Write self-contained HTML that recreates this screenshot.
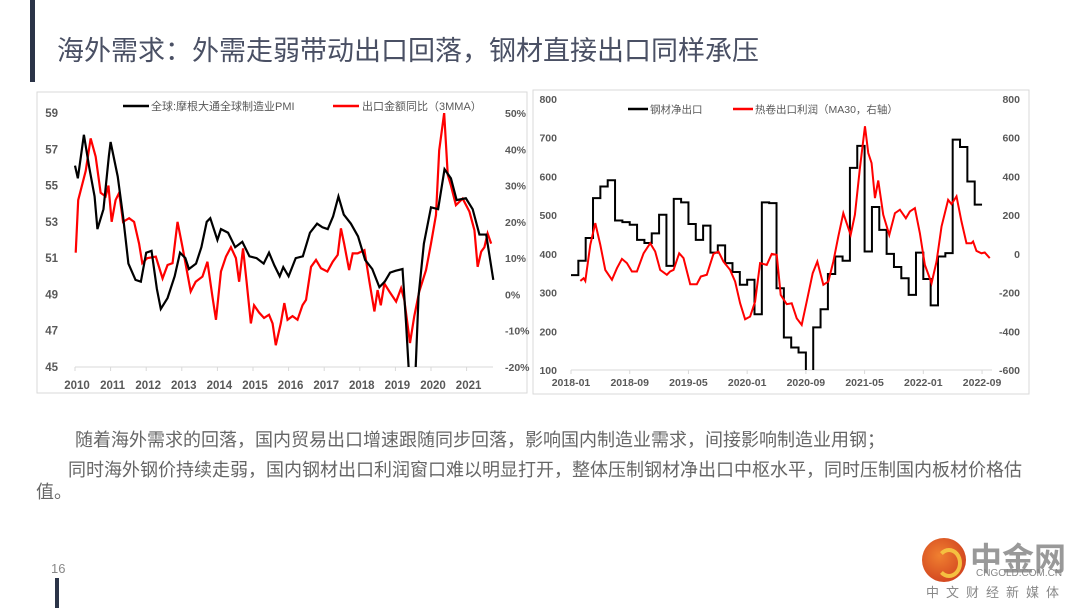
<!DOCTYPE html>
<html><head><meta charset="utf-8">
<style>
body{margin:0;width:1080px;height:608px;background:#fff;position:relative;overflow:hidden;font-family:"Liberation Sans","Noto Sans CJK SC",sans-serif;}
.abs{position:absolute;}
.p{color:#666;font-size:18px;white-space:nowrap;}
svg text{font-family:"Liberation Sans","Noto Sans CJK SC",sans-serif;}
</style></head><body>
<div class="abs" style="left:30px;top:0;width:5px;height:82px;background:#2b3448"></div>
<div class="abs" style="left:57px;top:29px;font-size:27px;color:#4a5064;white-space:nowrap">海外需求：外需走弱带动出口回落，钢材直接出口同样承压</div>
<div class="abs p" style="left:75px;top:426px">随着海外需求的回落，国内贸易出口增速跟随同步回落，影响国内制造业需求，间接影响制造业用钢；</div>
<div class="abs p" style="left:68px;top:456px">同时海外钢价持续走弱，国内钢材出口利润窗口难以明显打开，整体压制钢材净出口中枢水平，同时压制国内板材价格估</div>
<div class="abs p" style="left:36px;top:478px">值。</div>
<div class="abs" style="left:51px;top:561px;font-size:13px;color:#888">16</div>
<div class="abs" style="left:55px;top:578px;width:4px;height:30px;background:#2b3448"></div>
<div class="abs" style="left:922px;top:538px;width:150px;height:65px">
  <div class="abs" style="left:0;top:0;width:44px;height:44px;border-radius:50%;background:radial-gradient(circle at 40% 40%,#f08030,#c8321a)"></div>
  <div class="abs" style="left:14px;top:10px;width:18px;height:22px;border-radius:50%;border:4px solid #f5c040;border-left-color:transparent"></div>
  <div class="abs" style="left:48px;top:-4px;font-size:32px;font-weight:bold;color:#999">中金网</div>
  <div class="abs" style="left:54px;top:30px;font-size:10px;color:#888">CNGOLD.COM.CN</div>
  <div class="abs" style="left:4px;top:44px;font-size:13px;color:#888;letter-spacing:7px">中文财经新媒体</div>
</div>
<svg class="abs" style="left:0;top:0" width="1080" height="608">
<rect x="37" y="92" width="490" height="301" fill="none" stroke="#d9d9d9"/>
<rect x="533" y="90" width="496" height="304" fill="none" stroke="#d9d9d9"/>
<g id="L"></g><g id="R"></g>
</svg>
<script>
// ---- Left chart data ----
const pmiYears=[2010.0,2010.08,2010.25,2010.4,2010.55,2010.63,2010.8,2010.95,2011.0,2011.2,2011.35,2011.5,2011.7,2011.85,2012.0,2012.15,2012.3,2012.41,2012.6,2012.8,2012.95,2013.1,2013.2,2013.4,2013.55,2013.7,2013.8,2014.0,2014.1,2014.3,2014.5,2014.7,2014.9,2015.1,2015.3,2015.45,2015.6,2015.75,2015.85,2016.0,2016.2,2016.4,2016.6,2016.8,2016.95,2017.1,2017.25,2017.4,2017.55,2017.75,2017.95,2018.15,2018.35,2018.55,2018.7,2018.85,2019.0,2019.2,2019.3,2019.4,2019.55,2019.65,2019.8,2020.0,2020.2,2020.38,2020.56,2020.72,2020.98,2021.17,2021.36,2021.55,2021.75];
const pmiValues=[56.1,55.4,57.8,56.0,54.4,52.6,53.7,56.6,57.4,55.5,53.3,50.7,49.8,49.7,51.3,51.4,49.3,48.2,48.8,50.0,51.3,51.0,50.4,50.7,51.6,53.0,53.2,52.0,52.6,52.4,51.6,51.9,51.1,51.0,50.7,51.3,50.6,50.0,50.5,50.0,51.0,51.1,52.4,52.9,52.7,52.6,53.3,54.4,53.4,52.9,52.2,50.9,50.4,49.4,49.7,50.2,50.3,50.4,47.4,44.0,44.0,48.9,51.8,53.8,53.7,55.9,55.4,54.2,54.3,53.7,52.3,52.3,49.8];
const expYears=[2010.02,2010.09,2010.3,2010.44,2010.58,2010.72,2010.86,2010.94,2011.03,2011.14,2011.24,2011.35,2011.52,2011.66,2011.8,2011.89,2012.03,2012.27,2012.46,2012.6,2012.74,2012.88,2013.02,2013.25,2013.39,2013.58,2013.72,2013.86,2013.96,2014.1,2014.24,2014.38,2014.52,2014.61,2014.72,2014.82,2014.94,2015.03,2015.17,2015.31,2015.45,2015.55,2015.64,2015.78,2015.88,2015.97,2016.11,2016.25,2016.39,2016.49,2016.63,2016.77,2016.91,2017.09,2017.24,2017.38,2017.47,2017.56,2017.7,2017.8,2017.94,2018.13,2018.27,2018.41,2018.5,2018.59,2018.69,2018.83,2019.02,2019.16,2019.25,2019.41,2019.53,2019.67,2019.86,2020.0,2020.14,2020.23,2020.37,2020.47,2020.56,2020.7,2020.89,2021.08,2021.22,2021.31,2021.41,2021.5,2021.59,2021.69];
const expValues=[11.5,26,34,43,38,28,27,30,20,26,28,20,21,20,14,8.6,10,10.4,4.4,8.1,8.6,20,13,0.8,3.5,4.9,9,-0.6,-7,6.3,10.4,13,10,3.5,12.7,3.5,-8,-3,-5,-6.5,-5.6,-8,-14,-8,-2.4,-7,-6,-7,-3,-1.5,7.6,9.5,7.2,6.3,9,10.9,18.2,14,6.7,11.3,11.3,12.2,3.5,-4.7,1.2,-3,3,0.8,-2,1.7,-1.5,-13.4,-6,0.8,6.7,14,21.9,39.7,50,33,30,24.6,26.4,22.8,17.7,7.6,11.8,13,16.8,14];
const leftTicks=[59,57,55,53,51,49,47,45];
const rightPctTicks=["50%","40%","30%","20%","10%","0%","-10%","-20%"];
const yearLabels=["2010","2011","2012","2013","2014","2015","2016","2017","2018","2019","2020","2021"];
// ---- Right chart data ----
const netExport=[345,382,441,544,574,590,486,482,475,436,428,453,501,369,542,533,477,436,473,403,422,376,353,320,333,244,533,531,311,184,158,145,78,210,257,348,393,382,622,679,406,521,462,400,366,337,294,403,335,267,393,402,695,676,587,527];
const profitMonths=[1.27,1.72,1.95,2.63,3.31,3.99,4.67,5.58,6.26,6.94,7.62,8.3,8.98,9.89,10.79,11.47,12.15,13.06,13.51,13.97,14.74,15.33,16.24,17.14,17.69,18.5,19.41,20.09,20.77,21.68,22.36,23.04,23.72,24.4,25.08,25.76,26.67,27.35,28.03,28.57,29.39,30.07,30.75,31.43,32.11,32.93,33.56,34.38,35.06,35.74,36.42,37.1,37.55,38.1,38.68,39.36,40.05,40.5,40.95,41.41,41.86,42.54,43.36,44.13,44.81,45.62,46.17,46.85,47.53,48.21,49.12,49.8,50.48,51.38,51.84,52.52,53.2,53.88,54.56,54.78,55.24,55.92,56.37,57.05];
const profitValues=[-140,-126,-140,47,159,47,-83,-134,-74,-26,-48,-91,-91,3,55,12,-83,-108,-91,-83,3,-22,-157,-157,-117,-108,0,12,-40,-83,-143,-255,-338,-324,-247,-48,-57,0,-5,-212,-260,-255,-333,-367,-247,-100,-40,-160,-143,-40,90,210,159,98,202,443,659,521,469,288,379,202,98,210,228,184,219,236,107,-57,-152,-40,141,279,257,297,167,55,55,64,15,3,7,-22];
const rLeftTicks=[800,700,600,500,400,300,200,100];
const rRightTicks=[800,600,400,200,0,-200,-400,-600];
const monthLabels=["2018-01","2018-09","2019-05","2020-01","2020-09","2021-05","2022-01","2022-09"];

const NS="http://www.w3.org/2000/svg";
function mk(parent,tag,attrs,text){const e=document.createElementNS(NS,tag);for(const k in attrs)e.setAttribute(k,attrs[k]);if(text!==undefined)e.textContent=text;parent.appendChild(e);return e;}
const L=document.getElementById('L'),R=document.getElementById('R');
const lx=y=>75+(y-2010)*35.6, ly=v=>113+(59-v)*18.14, lyp=p=>113+(50-p)*3.628;
const rx=m=>571+m*7.34, ry=v=>99+(800-v)*0.3871, ryr=v=>99+(800-v)*0.19357;
mk(L,'clipPath',{id:'cl'});mk(document.getElementById('cl'),'rect',{x:60,y:113,width:460,height:254});
mk(R,'clipPath',{id:'cr'});mk(document.getElementById('cr'),'rect',{x:560,y:99,width:440,height:271});
let ax=mk(L,'line',{x1:75,y1:367,x2:493,y2:367,stroke:'#d9d9d9'});

leftTicks.forEach(v=>{const t=mk(L,'text',{x:58,y:ly(v)+4,'text-anchor':'end','font-size':11.5,'font-weight':'bold',fill:'#595959'},v);
});
rightPctTicks.forEach((s,i)=>{const t=mk(L,'text',{x:505,y:lyp(50-i*10)+4,'font-size':10.5,'font-weight':'bold',fill:'#595959'},s);
});
yearLabels.forEach((s,i)=>{const x=lx(2010+i);mk(L,'line',{x1:x,y1:367,x2:x,y2:371,stroke:'#d9d9d9'});
const t=mk(L,'text',{x:x+2,y:389,'text-anchor':'middle','font-size':11.5,'font-weight':'bold',fill:'#595959'},s);
});
let p1=mk(L,'polyline',{points:expYears.map((y,i)=>lx(y)+','+lyp(expValues[i])).join(' '),fill:'none',stroke:'#ff0000','stroke-width':2.2,'clip-path':'url(#cl)'});

let p2=mk(L,'polyline',{points:pmiYears.map((y,i)=>lx(y)+','+ly(pmiValues[i])).join(' '),fill:'none',stroke:'#000','stroke-width':2.2,'clip-path':'url(#cl)'});

mk(L,'line',{x1:123,y1:106,x2:149,y2:106,stroke:'#000','stroke-width':2.5});
let lg1=mk(L,'text',{x:151,y:110,'font-size':11,fill:'#595959'},'全球:摩根大通全球制造业PMI');

mk(L,'line',{x1:333,y1:106,x2:359,y2:106,stroke:'#ff0000','stroke-width':2.5});
let lg2=mk(L,'text',{x:362,y:110,'font-size':11,fill:'#595959'},'出口金额同比（3MMA）');

ax=mk(R,'line',{x1:571,y1:370,x2:992,y2:370,stroke:'#d9d9d9'});

rLeftTicks.forEach(v=>{const t=mk(R,'text',{x:557,y:ry(v)+4,'text-anchor':'end','font-size':10.5,'font-weight':'bold',fill:'#595959'},v);
});
rRightTicks.forEach(v=>{const t=mk(R,'text',{x:1020,y:ryr(v)+4,'text-anchor':'end','font-size':10.5,'font-weight':'bold',fill:'#595959'},v);
});
monthLabels.forEach((s,i)=>{const x=rx(i*8);mk(R,'line',{x1:x,y1:370,x2:x,y2:374,stroke:'#d9d9d9'});
const t=mk(R,'text',{x:x,y:386,'text-anchor':'middle','font-size':10.5,'font-weight':'bold',fill:'#595959'},s);
});
let pts=[];netExport.forEach((v,i)=>{pts.push(rx(i)+','+ry(v));pts.push(rx(i+1)+','+ry(v));});
let p3=mk(R,'polyline',{points:pts.join(' '),fill:'none',stroke:'#000','stroke-width':2,'clip-path':'url(#cr)'});

let p4=mk(R,'polyline',{points:profitMonths.map((m,i)=>rx(m)+','+ryr(profitValues[i])).join(' '),fill:'none',stroke:'#ff0000','stroke-width':2,'clip-path':'url(#cr)'});

mk(R,'line',{x1:628,y1:109,x2:648,y2:109,stroke:'#000','stroke-width':2.5});
let lg3=mk(R,'text',{x:650,y:113,'font-size':10.5,fill:'#595959'},'钢材净出口');

mk(R,'line',{x1:733,y1:109,x2:753,y2:109,stroke:'#ff0000','stroke-width':2.5});
let lg4=mk(R,'text',{x:755,y:113,'font-size':10.5,fill:'#595959'},'热卷出口利润（MA30，右轴）');

</script>
</body></html>
